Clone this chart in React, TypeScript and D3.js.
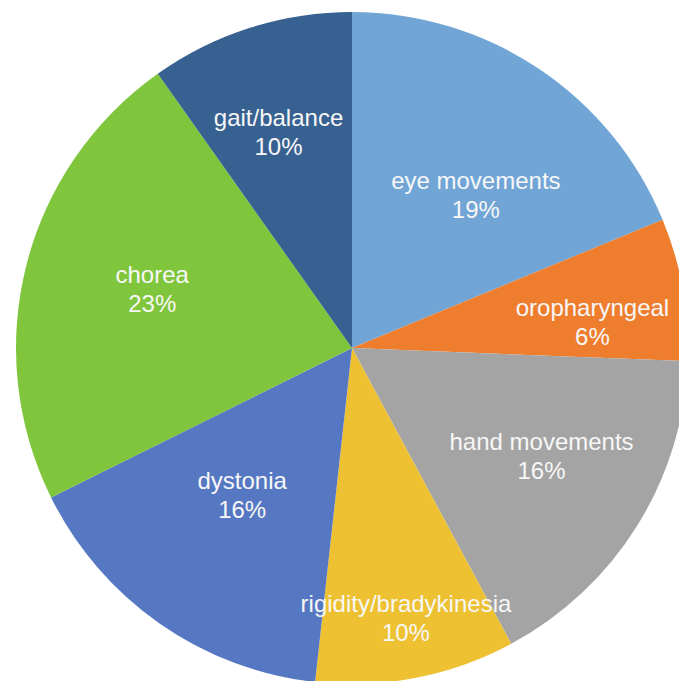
import React from "react";
import * as d3 from "d3";

// Slices clockwise from 12 o'clock
const categories = [
  "eye movements",
  "oropharyngeal",
  "hand movements",
  "rigidity/bradykinesia",
  "dystonia",
  "chorea",
  "gait/balance",
];
// slice shares (percent)
const values = [18.75, 6.85, 16.5, 9.6, 15.9, 22.5, 9.8];
// percentage labels as printed
const percentLabels = ["19%", "6%", "16%", "10%", "16%", "23%", "10%"];

const colors = ["#70a5d6", "#ee7e2e", "#a4a4a4", "#edc132", "#5677c1", "#80c63c", "#376191"];
// label placement: fraction of the radius, and angular shift from the slice bisector (degrees)
const labelRadius = [0.586, 0.72, 0.65, 0.82, 0.545, 0.62, 0.68];
const labelShift = [5.2, 3.8, -2.2, -0.3, 1.9, 2.3, -1.1];

const W = 679;
const H = 681;
const CX = 352;
const CY = 348;
const R = 336;

export default function App() {
  const pie = d3
    .pie<number>()
    .sort(null)
    .value((d) => d);
  const arcs = pie(values);
  const arcGen = d3.arc<d3.PieArcDatum<number>>().innerRadius(0).outerRadius(R);

  return (
    <svg
      width={W}
      height={H}
      style={{ position: "absolute", left: 0, top: 0, background: "#fff" }}
    >
      <g transform={`translate(${CX},${CY})`}>
        {arcs.map((a, i) => (
          <path key={i} d={arcGen(a) || ""} fill={colors[i]} />
        ))}
        {arcs.map((a, i) => {
          const lr = R * labelRadius[i];
          const ang = (a.startAngle + a.endAngle) / 2 + (labelShift[i] * Math.PI) / 180;
          const x = lr * Math.sin(ang);
          const y = -lr * Math.cos(ang);
          return (
            <text
              key={"t" + i}
              x={x}
              y={y}
              textAnchor="middle"
              fill="#f7f7f7"
              fontFamily="'Liberation Sans', Arial, sans-serif"
              fontSize={24}
            >
              <tspan x={x} dy={-6}>
                {categories[i]}
              </tspan>
              <tspan x={x} dy={29}>
                {percentLabels[i]}
              </tspan>
            </text>
          );
        })}
      </g>
    </svg>
  );
}
